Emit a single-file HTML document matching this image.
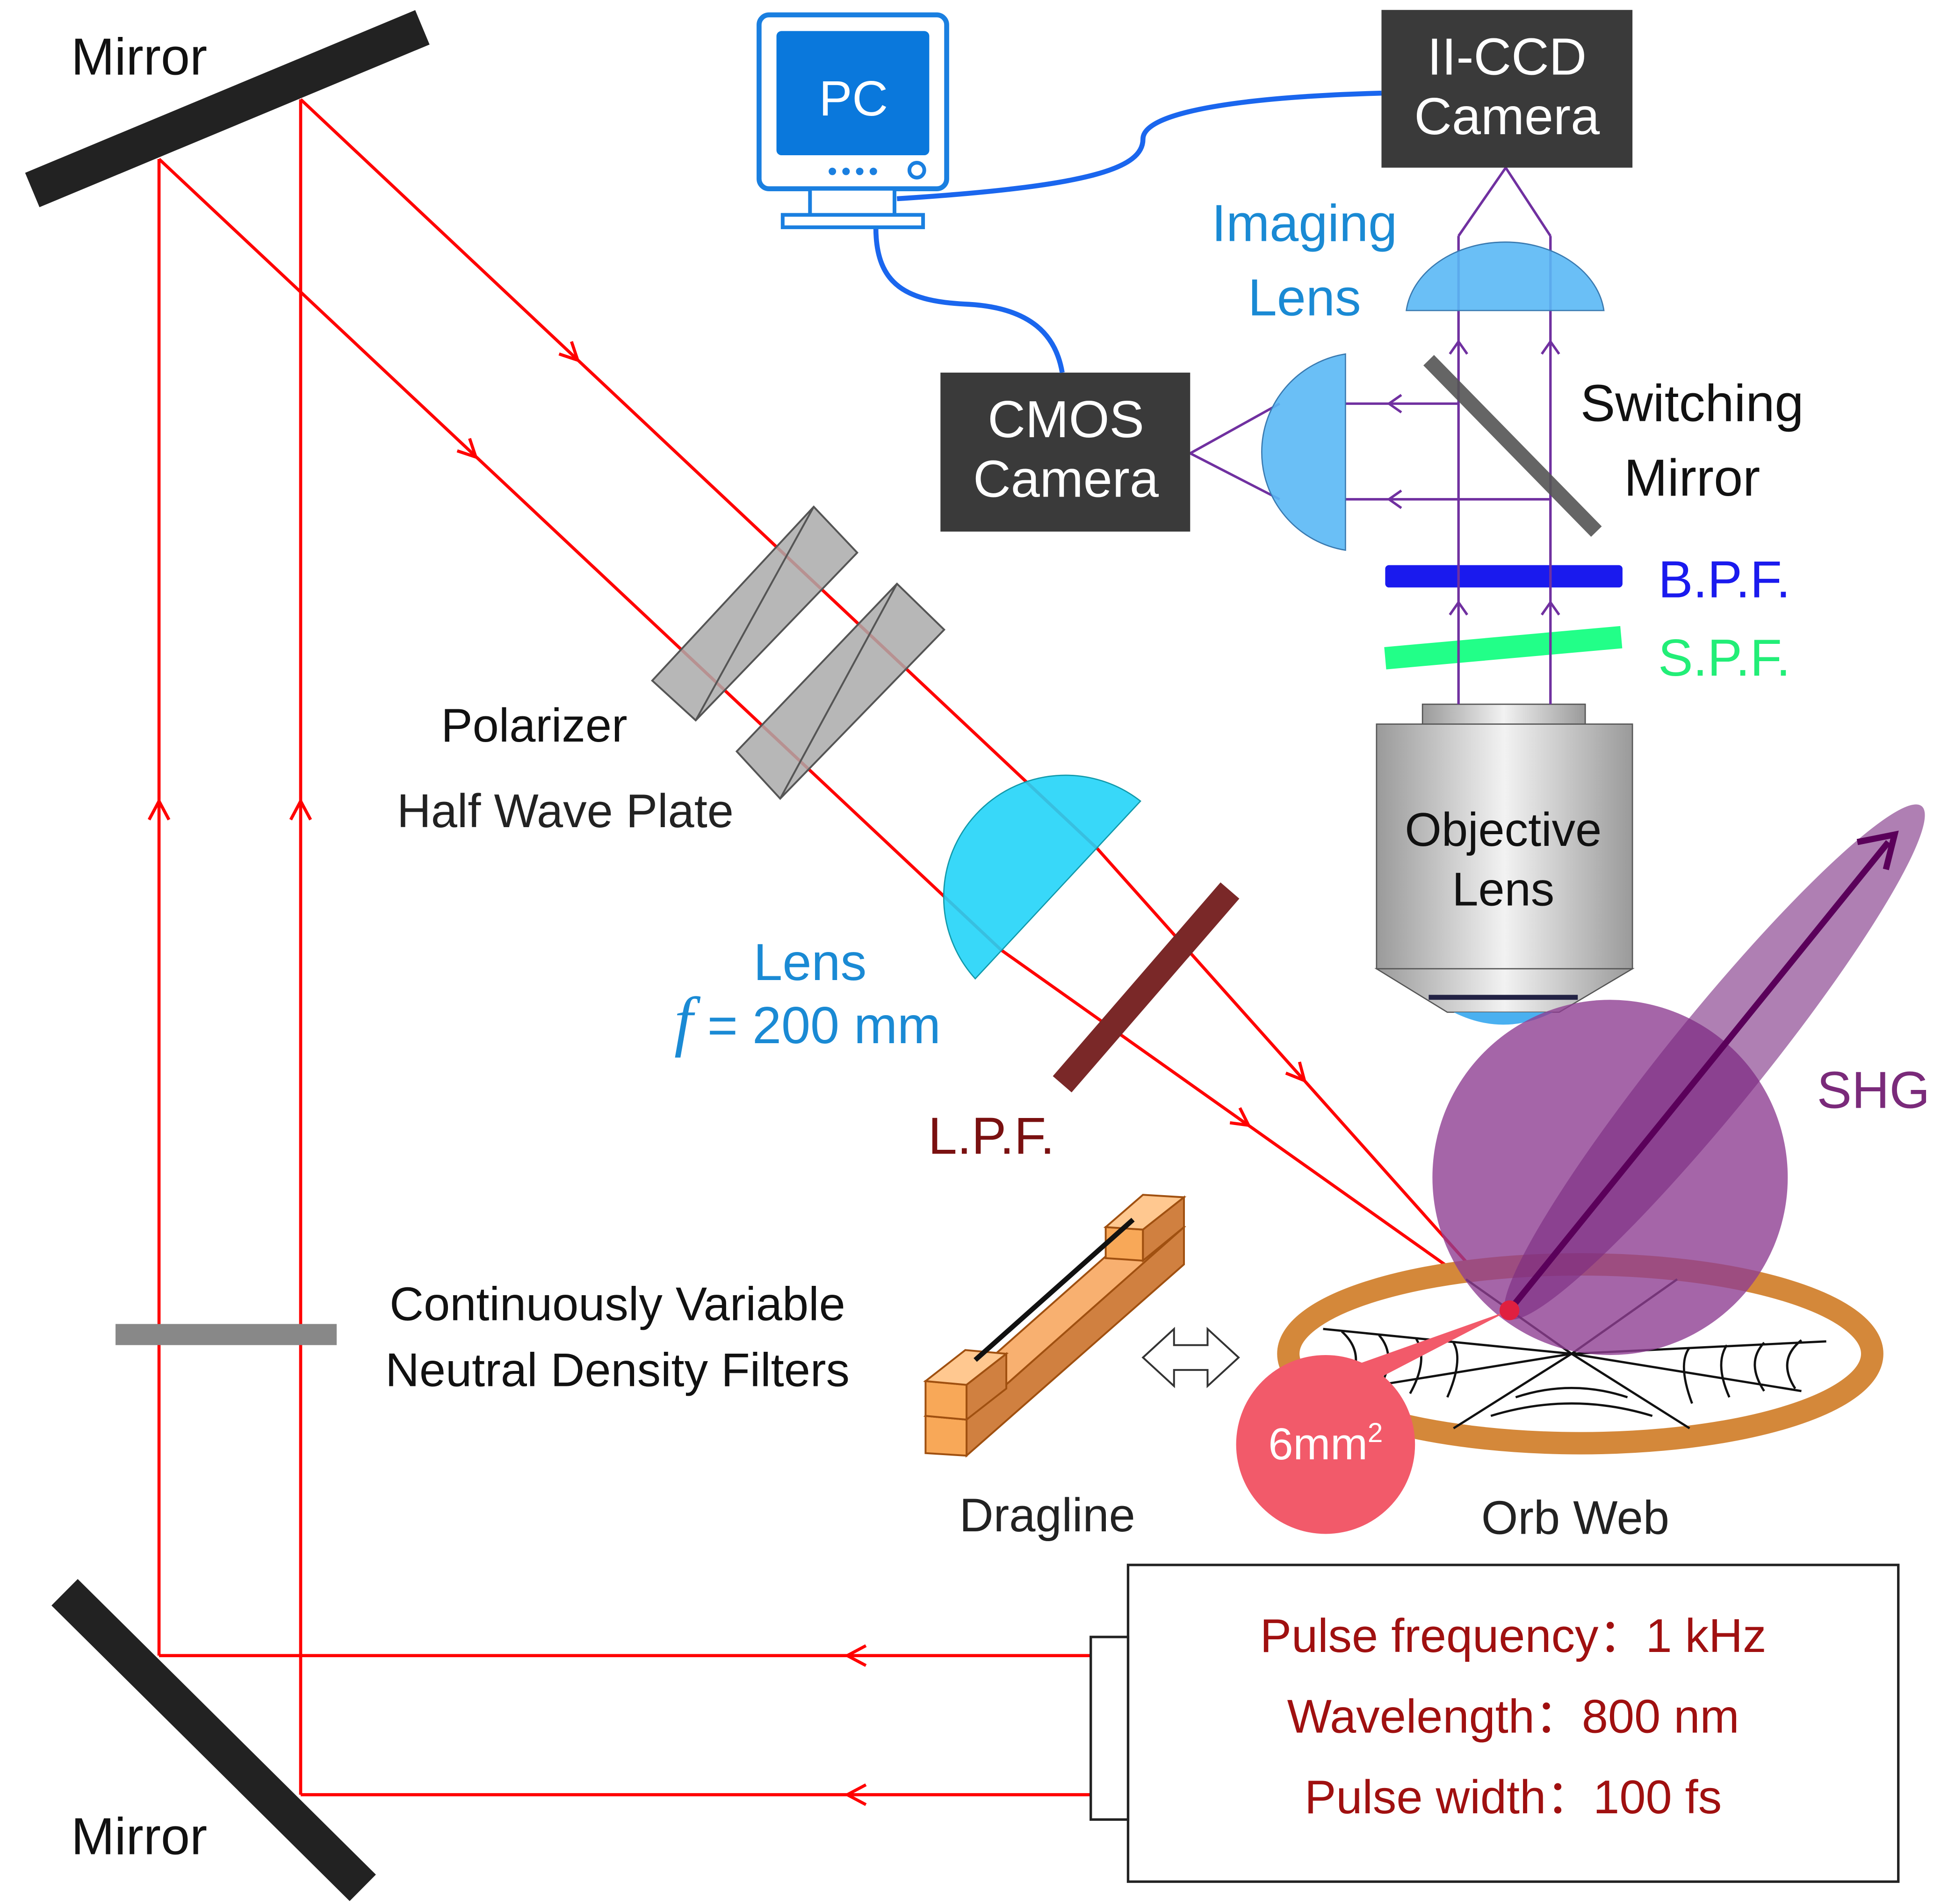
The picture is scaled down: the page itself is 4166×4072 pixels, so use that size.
<!DOCTYPE html>
<html><head><meta charset="utf-8"><style>
html,body{margin:0;padding:0;background:#fff;}
svg{display:block;}
text{font-family:"Liberation Sans",sans-serif;}
</style></head><body>
<svg width="4166" height="4072" viewBox="0 0 1568 1533" preserveAspectRatio="none" xmlns="http://www.w3.org/2000/svg">
<defs>
<linearGradient id="obj" x1="0" x2="1" y1="0" y2="0">
<stop offset="0" stop-color="#9a9a9a"/><stop offset="0.5" stop-color="#f2f2f2"/><stop offset="1" stop-color="#9a9a9a"/>
</linearGradient>
</defs>
<!-- mirrors -->
<line x1="26" y1="153" x2="340" y2="22" stroke="#222" stroke-width="30"/>
<line x1="52" y1="1282" x2="292" y2="1520" stroke="#222" stroke-width="30"/>
<!-- red beams -->
<g stroke="#f00" stroke-width="2.5" fill="none">
<line x1="128" y1="128" x2="128" y2="1333"/>
<line x1="242" y1="80" x2="242" y2="1445"/>
<line x1="128" y1="1333" x2="878" y2="1333"/>
<line x1="242" y1="1445" x2="878" y2="1445"/>
<polyline points="242,80 883,683 1215,1055"/>
<polyline points="128,128 806,765 1215,1055"/>
<polyline points="120,660 128,645 136,660"/>
<polyline points="234,660 242,645 250,660"/>
<polyline points="697,1325 682,1333 697,1341"/>
<polyline points="697,1437 682,1445 697,1453"/>
<polyline points="450,285 465,290 460,275"/>
<polyline points="368,363 383,368 378,353"/>
<polyline points="1035,864 1050,870 1046,855"/>
<polyline points="990,904 1005,906 998,892"/>
</g>
<!-- ND filter -->
<rect x="93" y="1066" width="178" height="17" fill="#888"/>
<!-- polarizer / HWP -->
<g fill="#aaa" fill-opacity="0.85" stroke="#555" stroke-width="1.5">
<polygon points="525,548 655,408 690,445 560,580"/>
<polygon points="593,605 722,470 760,507 628,643"/>
</g>
<line x1="560" y1="580" x2="655" y2="408" stroke="#555" stroke-width="1.5"/>
<line x1="628" y1="643" x2="722" y2="470" stroke="#555" stroke-width="1.5"/>
<!-- lens -->
<path d="M918,645 A98,98 0 0 0 785,788 Z" fill="#22d4f8" fill-opacity="0.9" stroke="#19a" stroke-width="1"/>
<!-- LPF -->
<line x1="855" y1="873" x2="990" y2="717" stroke="#7a2828" stroke-width="20"/>
<!-- objective -->
<rect x="1145" y="567" width="131" height="17" fill="url(#obj)" stroke="#555"/>
<rect x="1108" y="583" width="206" height="197" fill="url(#obj)" stroke="#555"/>
<polygon points="1108,780 1314,780 1255,815 1165,815" fill="url(#obj)" stroke="#555"/>
<path d="M1170,815 Q1210,835 1250,815 Z" fill="#4ab0f0"/>
<line x1="1150" y1="803" x2="1270" y2="803" stroke="#224" stroke-width="4"/>
<!-- filters -->
<line x1="1115" y1="530" x2="1305" y2="513" stroke="#22ff88" stroke-width="18"/>
<rect x="1115" y="455" width="191" height="18" rx="3" fill="#1a1aee"/>
<!-- purple paths -->
<g stroke="#7030a0" stroke-width="2" fill="none">
<line x1="1174" y1="567" x2="1174" y2="190"/>
<line x1="1248" y1="567" x2="1248" y2="190"/>
<polyline points="1174,190 1212,135 1248,190"/>
<line x1="1083" y1="325" x2="1174" y2="325"/>
<line x1="1083" y1="402" x2="1248" y2="402"/>
<polyline points="1030,325 958,365 1030,402"/>
<polyline points="1167,495 1174,485 1181,495"/><polyline points="1241,495 1248,485 1255,495"/>
<polyline points="1167,285 1174,275 1181,285"/><polyline points="1241,285 1248,275 1255,285"/>
<polyline points="1128,318 1118,325 1128,332"/><polyline points="1128,395 1118,402 1128,409"/>
</g>
<line x1="1150" y1="290" x2="1285" y2="428" stroke="#555" stroke-width="12" opacity="0.9"/>
<!-- CMOS lens -->
<path d="M1083,285 A80,80 0 0 0 1083,443 Z" fill="#5ab8f5" fill-opacity="0.9" stroke="#3a7ab0"/>
<!-- imaging lens -->
<path d="M1132,250 A80,62 0 0 1 1291,250 Z" fill="#5ab8f5" fill-opacity="0.9" stroke="#3a7ab0"/>
<!-- cameras -->
<rect x="1112" y="8" width="202" height="127" fill="#3a3a3a"/>
<text x="1213" y="60" font-size="42" fill="#fff" text-anchor="middle">II-CCD</text>
<text x="1213" y="108" font-size="42" fill="#fff" text-anchor="middle">Camera</text>
<rect x="757" y="300" width="201" height="128" fill="#3a3a3a"/>
<text x="858" y="352" font-size="42" fill="#fff" text-anchor="middle">CMOS</text>
<text x="858" y="400" font-size="42" fill="#fff" text-anchor="middle">Camera</text>
<!-- cables -->
<g stroke="#1a66ee" stroke-width="4" fill="none">
<path d="M1112,75 C1000,78 920,90 920,112 C920,135 880,150 722,160"/>
<path d="M705,183 C705,230 730,243 780,245 C830,248 850,270 855,300"/>
</g>
<!-- PC -->
<rect x="611" y="12" width="151" height="140" rx="8" fill="#fff" stroke="#1a7fe0" stroke-width="4"/>
<rect x="625" y="25" width="123" height="100" rx="4" fill="#0a78dc"/>
<text x="687" y="93" font-size="40" fill="#fff" text-anchor="middle">PC</text>
<g fill="#1a7fe0"><circle cx="670" cy="138" r="3"/><circle cx="681" cy="138" r="3"/><circle cx="692" cy="138" r="3"/><circle cx="703" cy="138" r="3"/></g>
<circle cx="738" cy="137" r="6" fill="none" stroke="#1a7fe0" stroke-width="3"/>
<rect x="652" y="152" width="68" height="22" fill="#fff" stroke="#1a7fe0" stroke-width="3"/>
<rect x="630" y="173" width="113" height="10" fill="#fff" stroke="#1a7fe0" stroke-width="3"/>
<!-- orb web -->
<ellipse cx="1272" cy="1090" rx="235" ry="72" fill="#fff" stroke="#d4883a" stroke-width="18"/>
<g stroke="#111" stroke-width="1.8" fill="none">
<line x1="1265" y1="1090" x2="1065" y2="1070"/><line x1="1265" y1="1090" x2="1470" y2="1080"/>
<line x1="1265" y1="1090" x2="1170" y2="1150"/><line x1="1265" y1="1090" x2="1360" y2="1150"/>
<line x1="1265" y1="1090" x2="1350" y2="1030"/><line x1="1265" y1="1090" x2="1180" y2="1030"/>
<line x1="1265" y1="1090" x2="1080" y2="1120"/><line x1="1265" y1="1090" x2="1450" y2="1120"/>
<path d="M1080,1072 Q1100,1090 1085,1115 M1110,1075 Q1125,1092 1110,1118 M1140,1078 Q1150,1095 1135,1122 M1170,1081 Q1178,1095 1165,1125"/>
<path d="M1450,1079 Q1430,1095 1445,1118 M1420,1081 Q1405,1097 1420,1120 M1390,1083 Q1380,1098 1392,1125 M1360,1085 Q1350,1098 1362,1130"/>
<path d="M1200,1140 Q1265,1120 1330,1140 M1220,1125 Q1265,1110 1310,1125"/>
</g>
<!-- SHG -->
<circle cx="1296" cy="948" r="143" fill="#8e3f92" fill-opacity="0.8"/>
<ellipse cx="1380" cy="855" rx="265" ry="38" transform="rotate(-51 1380 855)" fill="#7a2a80" fill-opacity="0.6"/>
<line x1="1215" y1="1055" x2="1520" y2="678" stroke="#5a005a" stroke-width="5"/>
<polyline points="1495,678 1525,672 1518,700" fill="none" stroke="#5a005a" stroke-width="5"/>
<!-- spot -->
<polygon points="1215,1055 1060,1110 1090,1120" fill="#f25a6a"/>
<circle cx="1215" cy="1055" r="8" fill="#e02040"/>
<circle cx="1067" cy="1163" r="72" fill="#f25a6a"/>
<text x="1067" y="1175" font-size="36" fill="#fff" text-anchor="middle">6mm<tspan font-size="22" dy="-14">2</tspan></text>
<!-- dragline -->
<g stroke="#a05010" stroke-width="1.5">
<polygon points="778,1143 953,988 953,1018 778,1172" fill="#d08040"/>
<polygon points="745,1140 778,1143 778,1172 745,1170" fill="#f8a858"/>
<polygon points="745,1140 920,985 953,988 778,1143" fill="#f8b070"/>
<polygon points="778,1115 778,1143 745,1140 745,1112" fill="#f8a858"/>
<polygon points="745,1112 778,1115 810,1090 777,1087" fill="#ffc890"/>
<polygon points="810,1090 810,1118 778,1143 778,1115" fill="#d08040"/>
<polygon points="890,988 920,990 920,1015 890,1013" fill="#f8a858"/>
<polygon points="890,988 920,962 953,964 920,990" fill="#ffc890"/>
<polygon points="920,990 953,964 953,988 920,1015" fill="#d08040"/>
</g>
<line x1="785" y1="1095" x2="912" y2="982" stroke="#111" stroke-width="4"/>
<polygon points="920,1093 945,1070 945,1083 972,1083 972,1070 997,1093 972,1116 972,1103 945,1103 945,1116" fill="#fff" stroke="#333" stroke-width="1.5"/>
<!-- laser box -->
<rect x="908" y="1260" width="620" height="255" fill="#fff" stroke="#222" stroke-width="2"/>
<rect x="878" y="1318" width="30" height="147" fill="#fff" stroke="#222" stroke-width="2"/>
<g fill="#a01010" font-size="38" text-anchor="middle">
<text x="1218" y="1330">Pulse frequency：1 kHz</text>
<text x="1218" y="1395">Wavelength：800 nm</text>
<text x="1218" y="1460">Pulse width：100 fs</text>
</g>
<!-- labels -->
<g font-size="42" text-anchor="middle">
<text x="112" y="60" fill="#111">Mirror</text>
<text x="112" y="1493" fill="#111">Mirror</text>
<text x="1050" y="194" fill="#1a8ad4">Imaging</text>
<text x="1050" y="254" fill="#1a8ad4">Lens</text>
<text x="1362" y="339" fill="#111">Switching</text>
<text x="1362" y="399" fill="#111">Mirror</text>
<text x="1388" y="481" fill="#1a1aee">B.P.F.</text>
<text x="1388" y="544" fill="#22ee77">S.P.F.</text>
<text x="1210" y="681" fill="#111" font-size="38">Objective</text>
<text x="1210" y="729" fill="#111" font-size="38">Lens</text>
<text x="430" y="597" fill="#111" font-size="38">Polarizer</text>
<text x="455" y="666" fill="#222" font-size="38">Half Wave Plate</text>
<text x="652" y="789" fill="#1a8ad4">Lens</text>
<text x="650" y="840" fill="#1a8ad4"><tspan font-family="Liberation Serif" font-style="italic" font-size="54">f</tspan> = 200 mm</text>
<text x="798" y="929" fill="#7a1010">L.P.F.</text>
<text x="1508" y="892" fill="#7a2a7a">SHG</text>
<text x="497" y="1063" fill="#111" font-size="38">Continuously Variable</text>
<text x="497" y="1116" fill="#111" font-size="38">Neutral Density Filters</text>
<text x="843" y="1233" fill="#222" font-size="38">Dragline</text>
<text x="1268" y="1235" fill="#222" font-size="38">Orb Web</text>
</g>
</svg>
</body></html>
